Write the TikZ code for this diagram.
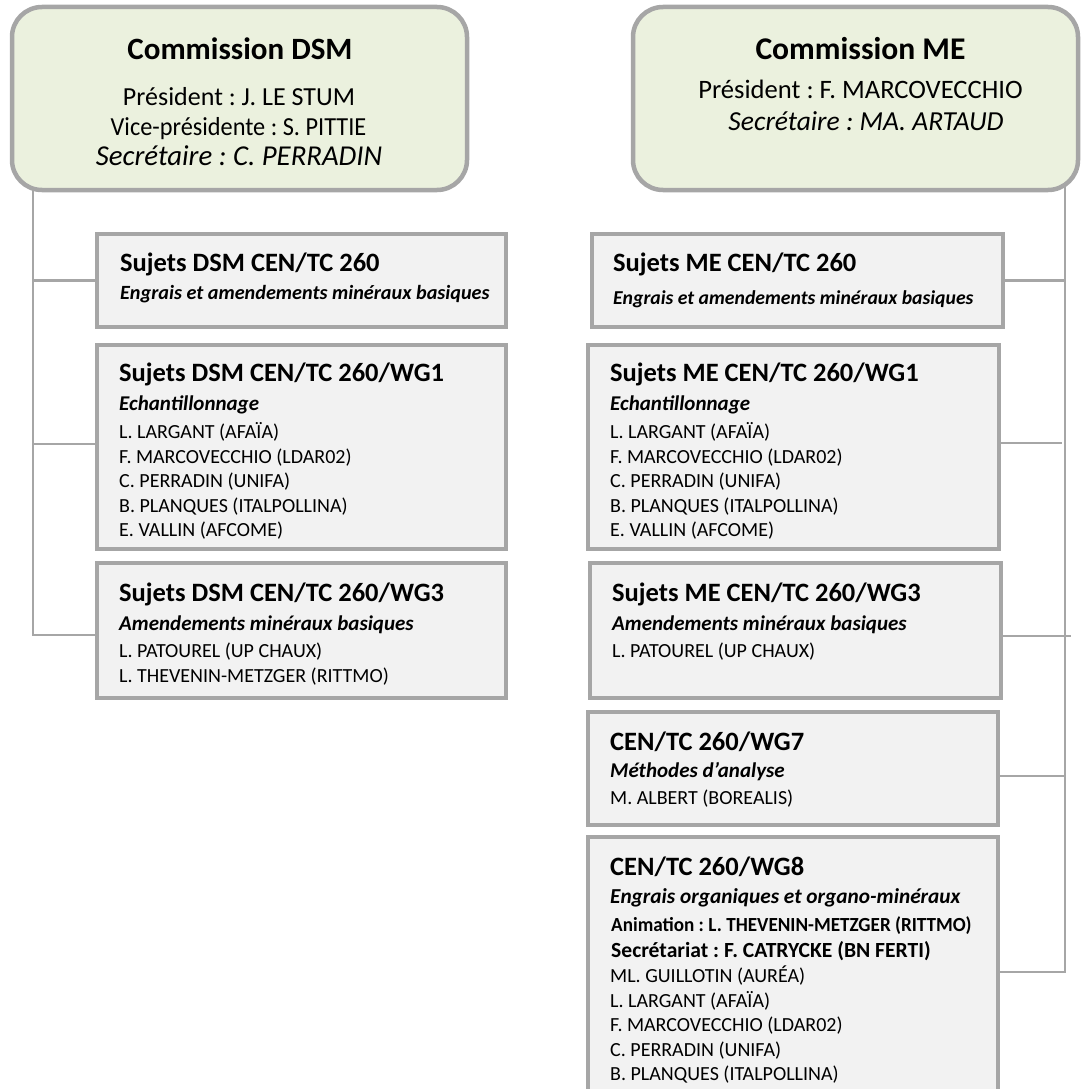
\documentclass[tikz,border=0pt]{standalone}
\usepackage{fontspec}
\setmainfont{Carlito}
\frenchspacing
\definecolor{boxfill}{HTML}{F2F2F2}
\definecolor{boxline}{HTML}{A6A6A6}
\definecolor{comfill}{HTML}{EBF1DE}
\definecolor{connc}{HTML}{A6A6A6}
\pgfdeclarelayer{background}
\pgfsetlayers{background,main}
\tikzset{
 combox/.style={draw=boxline, line width=4.5pt, fill=comfill, rounded corners=30pt, anchor=north west, inner sep=0pt, outer sep=0pt},
 wgbox/.style={draw=boxline, line width=3.5pt, fill=boxfill, anchor=north west, inner sep=0pt, outer sep=0pt},
 link/.style={draw=connc, line width=2.5pt},
 ttl/.style={anchor=base west, inner sep=0pt, font=\bfseries\fontsize{26.5}{30}\selectfont},
 sub/.style={anchor=base west, inner sep=0pt, font=\bfseries\itshape\fontsize{21}{24}\selectfont},
 nm/.style={anchor=base west, inner sep=0pt, font=\fontsize{20}{24}\selectfont},
 bnm/.style={anchor=base west, inner sep=0pt, font=\bfseries\fontsize{20}{24}\selectfont},
 ctitle/.style={anchor=base, inner sep=0pt, font=\bfseries\fontsize{31}{36}\selectfont},
 cline/.style={anchor=base, inner sep=0pt, font=\fontsize{26}{30}\selectfont},
 cital/.style={anchor=base, inner sep=0pt, font=\itshape\fontsize{27.5}{30}\selectfont},
}
\begin{document}
\begin{tikzpicture}[x=1pt,y=-1pt]
\useasboundingbox (0,0) rectangle (1080,1089);
\coordinate (ltop) at (33,180);
\coordinate (rtop) at (1065,180);
% boxes
\node[combox, minimum width=455pt, minimum height=183pt] (dsm) at (12,7) {};
\node[combox, minimum width=445pt, minimum height=183pt] (me) at (633,7) {};
\node[wgbox, minimum width=409pt, minimum height=93pt] (d1) at (97,234) {};
\node[wgbox, minimum width=409pt, minimum height=204pt] (d2) at (97,345) {};
\node[wgbox, minimum width=409pt, minimum height=135pt] (d3) at (97,563) {};
\node[wgbox, minimum width=411pt, minimum height=93pt] (m1) at (592,234) {};
\node[wgbox, minimum width=411pt, minimum height=204pt] (m2) at (588,345) {};
\node[wgbox, minimum width=411pt, minimum height=135pt] (m3) at (590,563) {};
\node[wgbox, minimum width=410pt, minimum height=113pt] (m4) at (588,712) {};
\node[wgbox, minimum width=410pt, minimum height=270pt] (m5) at (588,837) {};
% connection points on boxes
\coordinate (d2b) at ([yshift=-99pt]d2.north west);
\coordinate (d3b) at ([yshift=-72pt]d3.north west);
\coordinate (m2b) at ([yshift=-98pt]m2.north east);
\coordinate (m3b) at ([yshift=-73pt]m3.north east);
\coordinate (m4b) at ([yshift=-64pt]m4.north east);
\coordinate (m5b) at ([yshift=-135pt]m5.north east);
\begin{pgfonlayer}{background}
\draw[link] (ltop) |- (d3b);
\draw[link] (d1.west) -- (ltop |- d1.west);
\draw[link] (d2b) -- (ltop |- d2b);
\draw[link] (rtop) |- (m5b);
\draw[link] (m1.east) -- (rtop |- m1.east);
\draw[link] (m2b) -- ([xshift=-3pt]rtop |- m2b);
\draw[link] (m3b) -- ([xshift=6pt]rtop |- m3b);
\draw[link] (m4b) -- (rtop |- m4b);
\end{pgfonlayer}
% commission texts
\node[ctitle] (dsmt) at (240,60) {Commission DSM};
\node[cline] (dsm1) at (239,105.5) {Président : J. LE STUM};
\node[cline] (dsm2) at (238.5,135.5) {\scalebox{0.935}[1]{Vice-présidente : S. PITTIE}};
\node[cital, font=\itshape\fontsize{28.8}{30}\selectfont] (dsm3) at (239,165.5) {Secrétaire : C. PERRADIN};
\node[ctitle, font=\bfseries\fontsize{31.6}{36}\selectfont] (met) at (860.5,60) {Commission ME};
\node[cline, font=\fontsize{26.6}{30}\selectfont] (me1) at (860.5,98.5) {Président : F. MARCOVECCHIO};
\node[cital] (me2) at (866,130.5) {Secrétaire : MA. ARTAUD};
% DSM boxes
\node[ttl] (d1t) at (120,271.5) {Sujets DSM CEN/TC 260};
\node[sub, font=\bfseries\itshape\fontsize{20.2}{22}\selectfont] (d1s) at (120,299) {Engrais et amendements minéraux basiques};
\node[ttl] (d2t) at (119,381.5) {Sujets DSM CEN/TC 260/WG1};
\node[sub] (d2s) at (119,410) {Echantillonnage};
\node[nm] (d2n1) at (119,438.5) {L. LARGANT (AFAÏA)};
\node[nm] (d2n2) at (119,463) {F. MARCOVECCHIO (LDAR02)};
\node[nm] (d2n3) at (119,487.5) {C. PERRADIN (UNIFA)};
\node[nm] (d2n4) at (119,512) {B. PLANQUES (ITALPOLLINA)};
\node[nm] (d2n5) at (119,536.5) {E. VALLIN (AFCOME)};
\node[ttl] (d3t) at (119,601.5) {Sujets DSM CEN/TC 260/WG3};
\node[sub] (d3s) at (119,630) {Amendements minéraux basiques};
\node[nm] (d3n1) at (119,657.5) {L. PATOUREL (UP CHAUX)};
\node[nm] (d3n2) at (119,682) {L. THEVENIN-METZGER (RITTMO)};
% ME boxes
\node[ttl] (m1t) at (613,271.5) {Sujets ME CEN/TC 260};
\node[sub, font=\bfseries\itshape\fontsize{19.7}{22}\selectfont] (m1s) at (613,304) {Engrais et amendements minéraux basiques};
\node[ttl] (m2t) at (610,381.5) {Sujets ME CEN/TC 260/WG1};
\node[sub] (m2s) at (610,410) {Echantillonnage};
\node[nm] (m2n1) at (610,438.5) {L. LARGANT (AFAÏA)};
\node[nm] (m2n2) at (610,463) {F. MARCOVECCHIO (LDAR02)};
\node[nm] (m2n3) at (610,487.5) {C. PERRADIN (UNIFA)};
\node[nm] (m2n4) at (610,512) {B. PLANQUES (ITALPOLLINA)};
\node[nm] (m2n5) at (610,536.5) {E. VALLIN (AFCOME)};
\node[ttl] (m3t) at (612,601.5) {Sujets ME CEN/TC 260/WG3};
\node[sub] (m3s) at (612,630) {Amendements minéraux basiques};
\node[nm] (m3n1) at (612,657.5) {L. PATOUREL (UP CHAUX)};
\node[ttl] (m4t) at (610,750.5) {CEN/TC 260/WG7};
\node[sub] (m4s) at (610,777) {Méthodes d’analyse};
\node[nm] (m4n1) at (610,804.5) {M. ALBERT (BOREALIS)};
\node[ttl] (m5t) at (610,875.5) {CEN/TC 260/WG8};
\node[sub, font=\bfseries\itshape\fontsize{21.3}{24}\selectfont] (m5s) at (610,903) {Engrais organiques et organo-minéraux};
\node[bnm] (m5a) at (611,931.5) {\scalebox{0.957}[1]{Animation : L. THEVENIN-METZGER (RITTMO)}};
\node[bnm, font=\bfseries\fontsize{21.6}{24}\selectfont] (m5b2) at (611,957.5) {Secrétariat : F. CATRYCKE (BN FERTI)};
\node[nm] (m5n1) at (610,982.5) {ML. GUILLOTIN (AURÉA)};
\node[nm] (m5n2) at (610,1007.5) {L. LARGANT (AFAÏA)};
\node[nm] (m5n3) at (610,1031.5) {F. MARCOVECCHIO (LDAR02)};
\node[nm] (m5n4) at (610,1056.5) {C. PERRADIN (UNIFA)};
\node[nm] (m5n5) at (610,1080.5) {B. PLANQUES (ITALPOLLINA)};
\end{tikzpicture}
\end{document}
